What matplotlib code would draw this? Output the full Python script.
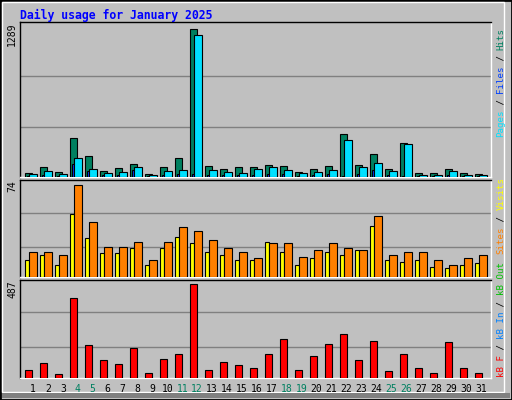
import matplotlib
matplotlib.use("Agg")
import matplotlib.pyplot as plt
from matplotlib.patches import Rectangle
import numpy as np

days = list(range(1, 32))
weekends = [4, 5, 11, 12, 18, 19, 25, 26]
hits = [38, 84, 46, 336, 180, 55, 75, 116, 29, 84, 162, 1289, 93, 67, 84, 84,
        101, 93, 46, 67, 93, 371, 101, 203, 67, 293, 38, 38, 67, 38, 29]
pages = [29, 55, 29, 162, 72, 38, 46, 84, 20, 55, 64, 1238, 64, 46, 38, 72,
         84, 64, 38, 46, 64, 319, 84, 125, 55, 284, 20, 20, 55, 20, 20]
files = [12, 20, 12, 110, 49, 20, 20, 58, 8, 20, 25, 30, 20, 20, 20, 20,
         25, 25, 12, 20, 25, 10, 25, 58, 15, 10, 10, 10, 15, 10, 12]
sites = [20, 20, 18, 74, 44, 24, 24, 28, 14, 28, 40, 37, 30, 23, 20, 15,
         27, 27, 16, 22, 27, 23, 22, 49, 18, 20, 20, 14, 10, 15, 18]
visits = [14, 18, 10, 51, 31, 19, 19, 23, 10, 23, 32, 27, 20, 18, 14, 14,
          28, 20, 10, 15, 20, 18, 22, 41, 14, 12, 14, 8, 7, 10, 11]
kbytes = [44, 76, 23, 412, 172, 92, 71, 156, 28, 98, 124, 487, 39, 82, 66, 50,
          124, 204, 39, 114, 178, 226, 92, 194, 34, 124, 50, 28, 188, 50, 28]

W, H = 512, 400
BG = "#C0C0C0"
mono = "DejaVu Sans Mono"

fig = plt.figure(figsize=(W / 100, H / 100), dpi=100, facecolor=BG)
# outer 3D border
fig.patches.append(Rectangle((0, 0), 1, 1, transform=fig.transFigure,
                             fill=False, ec="black", lw=2))
fig.patches.append(Rectangle((2 / W, 8 / H), (W - 10) / W, (H - 10) / H,
                             transform=fig.transFigure, fill=False, ec="white", lw=1))
fig.patches.append(Rectangle((2 / W, 2 / H), (W - 4) / W, 5 / H,
                             transform=fig.transFigure, color="#808080", lw=0))


def panel(top, bottom):
    ax = fig.add_axes([20 / W, 1 - bottom / H, 471 / W, (bottom - top) / H])
    ax.set_facecolor(BG)
    ax.set_xlim(20, 491)
    ax.set_xticks([])
    ax.set_yticks([])
    for s in ax.spines.values():
        s.set_color("black")
        s.set_linewidth(1)
    ax.spines["right"].set_color("white")
    ax.spines["bottom"].set_color("white")
    return ax


def bar(ax, offs, width, vals, color):
    x = [25 + 15 * (d - 1) + offs for d in days]
    ax.bar(x, vals, width=width, align="edge", color=color,
           edgecolor="black", linewidth=0.8, zorder=3)


def grid(ax, top, fracs):
    for f in fracs:
        ax.axhline(top * f, color="#808080", lw=1, zorder=1)


# top panel
ax1 = panel(22, 177)
top1 = 1289 * 155 / 148
ax1.set_ylim(0, top1)
grid(ax1, top1, [0.32, 0.65])
bar(ax1, 0, 7.3, hits, "#008060")
bar(ax1, 1.7, 2, files, "#0040FF")
bar(ax1, 3.7, 8, pages, "#00E0FF")

# middle panel
ax2 = panel(180, 277)
top2 = 74 * 97 / 92
ax2.set_ylim(0, top2)
grid(ax2, top2, [0.31, 0.66])
bar(ax2, 0.3, 4, visits, "#FFFF00")
bar(ax2, 4.3, 7.4, sites, "#FF8000")

# bottom panel
ax3 = panel(280, 378)
top3 = 487 * 97.4 / 93.4
ax3.set_ylim(0, top3)
grid(ax3, top3, [0.32, 0.67])
bar(ax3, 0, 7.3, kbytes, "#FF0000")

# title
fig.text(20 / W, 1 - 15 / H, "Daily usage for January 2025", color="#0000FF",
         family=mono, weight="bold", fontsize=8.3, va="center", ha="left")

# left max labels
for txt, y in [("1289", 22), ("74", 180), ("487", 280)]:
    fig.text(12 / W, 1 - y / H, txt, rotation=90, family=mono, fontsize=7,
             ha="center", va="top", color="black")

# day labels
for d in days:
    c = "#008060" if d in weekends else "black"
    fig.text((33 + 14.93 * (d - 1)) / W, 1 - 389 / H, str(d), family=mono,
             fontsize=7, ha="center", va="center", color=c)


# right side legends, reading bottom to top
def legend(start_y, parts):
    cw = 5.45
    y = start_y
    for txt, col in parts:
        fig.text(501 / W, 1 - y / H, txt, rotation=90, family=mono, fontsize=6.6,
                 ha="center", va="bottom", color=col)
        y -= cw * len(txt)


legend(137, [("Pages", "#00E0FF"), (" / ", "black"), ("Files", "#0040FF"),
             (" / ", "black"), ("Hits", "#008060")])
legend(254, [("Sites", "#FF8000"), (" / ", "black"), ("Visits", "#FFFF00")])
legend(377, [("kB F", "#FF0000"), (" / ", "black"), ("kB In", "#0080FF"),
             (" / ", "black"), ("kB Out", "#00C000")])

fig.savefig("out.png", dpi=100, facecolor=BG)
